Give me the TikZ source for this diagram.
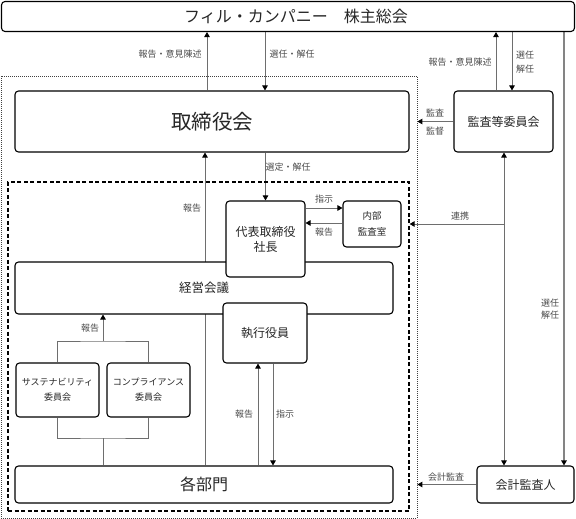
\documentclass[tikz,border=0pt]{standalone}
\usepackage{fontspec}
\setmainfont{Noto Sans CJK JP}
\usetikzlibrary{arrows.meta}
\pgfdeclarelayer{background}
\pgfsetlayers{background,main}
\definecolor{conncol}{HTML}{6E6E6E}
\definecolor{txtcol}{HTML}{262626}
\definecolor{lblcol}{HTML}{4A4A4A}
\newcommand{\fs}[2]{\fontsize{#1}{#2}\selectfont}
\begin{document}
\begin{tikzpicture}[x=1pt,y=-1pt,
  >={Triangle[length=5pt,width=5.5pt,color=black]},
  box/.style={draw=black,line width=1.1pt,rounded corners=3.5pt,fill=white,inner sep=0pt,text=txtcol,align=center},
  lbl/.style={text=lblcol,font=\fs{9}{13},inner sep=0pt,align=center},
  conn/.style={draw=conncol,line width=0.9pt},
  frame/.style={inner sep=0pt}]
\useasboundingbox (0,0) rectangle (576,519);

% frames
\node[frame,draw=black!75,line width=0.8pt,dash pattern=on 1pt off 1pt,minimum width=416pt,minimum height=442pt] (outer) at (209,297) {};
\node[frame,draw=black,line width=1.2pt,dash pattern=on 4pt off 2.5pt,minimum width=401pt,minimum height=329pt] (inner) at (208.5,346.5) {};

% boxes
\node[box,minimum width=573pt,minimum height=30pt,font=\fs{16}{18}] (top) at (288,16.5) {\hspace*{16pt}フィル・カンパニー　株主総会};
\node[box,minimum width=394pt,minimum height=61pt,font=\fs{20.5}{22}] (tori) at (212,121.5) {取締役会};
\node[box,minimum width=99pt,minimum height=61pt,font=\fs{12}{14}] (kansa) at (503.5,121.5) {監査等委員会};
\node[box,minimum width=378pt,minimum height=52pt,font=\fs{12.5}{14}] (keiei) at (204,288) {経営会議};
\node[box,minimum width=79pt,minimum height=76pt,font=\fs{12}{15}] (daihyo) at (265.5,239) {代表取締役\\社長};
\node[box,minimum width=58pt,minimum height=46pt,font=\fs{9.5}{16}] (naibu) at (372,224) {内部\\監査室};
\node[box,minimum width=84pt,minimum height=60pt,font=\fs{12}{14}] (shikko) at (265,333) {執行役員};
\node[box,minimum width=83pt,minimum height=54pt,font=\fs{9}{15}] (sus) at (57.5,390) {サステナビリティ\\委員会};
\node[box,minimum width=83pt,minimum height=54pt,font=\fs{9}{15}] (comp) at (148.5,390) {コンプライアンス\\委員会};
\node[box,minimum width=378pt,minimum height=37pt,font=\fs{16}{18}] (kakubu) at (204,484.5) {各部門};
\node[box,minimum width=97pt,minimum height=37pt,font=\fs{12}{14}] (kaikei) at (525.5,484.5) {会計監査人};

% guide coordinates
\coordinate (xA) at (207,0);
\coordinate (xB) at (265,0);
\coordinate (xH) at (205,0);
\coordinate (xR) at (258,0);
\coordinate (xI) at (273,0);
\coordinate (xU) at (496,0);
\coordinate (xD) at (512,0);
\coordinate (xC) at (504,0);
\coordinate (xE) at (564,0);
\coordinate (yS) at (0,208);
\coordinate (yK) at (0,223);
\coordinate (yL) at (0,224);
\coordinate (tT) at (103,341);
\coordinate (tB) at (103,438);

\begin{pgfonlayer}{background}
\draw[conn,->] (tori.north -| xA) -- (top.south -| xA);
\draw[conn,->] (top.south -| xB) -- (tori.north -| xB);
\draw[conn,->] (kansa.north -| xU) -- (top.south -| xU);
\draw[conn,->] (top.south -| xD) -- (kansa.north -| xD);
\draw[conn,->,line width=1.4pt,draw=conncol!85] (top.south -| xE) -- (kaikei.north -| xE);
\draw[conn,<->] (kansa.south -| xC) -- (kaikei.north -| xC);
\draw[conn,->] (kansa.west) -- (kansa.west -| outer.east);
\draw[conn,->] (xC |- yL) -- (inner.east |- yL);
\draw[conn,->] (kaikei.west) -- (kaikei.west -| outer.east);
\draw[conn,->] (tori.south -| daihyo.north) -- (daihyo.north);
\draw[conn,->] (kakubu.north -| xH) -- (tori.south -| xH);
\draw[conn,->] (daihyo.east |- yS) -- (naibu.west |- yS);
\draw[conn,->] (naibu.west |- yK) -- (daihyo.east |- yK);
\draw[conn] (sus.north) |- (tT) -| (comp.north);
\draw[conn,->] (tT) -- (keiei.south -| tT);
\draw[conn] (sus.south) |- (tB) -| (comp.south);
\draw[conn] (tB) -- (kakubu.north -| tB);
\draw[conn,->] (kakubu.north -| xR) -- (shikko.south -| xR);
\draw[conn,->] (shikko.south -| xI) -- (kakubu.north -| xI);
\end{pgfonlayer}

% labels
\node[lbl] (l1) at (170,54) {報告・意見陳述};
\node[lbl] (l2) at (292,54) {選任・解任};
\node[lbl] (l3) at (460,62) {報告・意見陳述};
\node[lbl,font=\fs{9}{14}] (l4) at (525,62) {選任\\解任};
\node[lbl,font=\fs{9}{18}] (l5) at (435,122) {監査\\監督};
\node[lbl] (l6) at (288,167) {選定・解任};
\node[lbl] (l7) at (192,208) {報告};
\node[lbl] (l8) at (324,199) {指示};
\node[lbl] (l9) at (324,232) {報告};
\node[lbl] (l10) at (460,216) {連携};
\node[lbl] (l11) at (90,328) {報告};
\node[lbl] (l12) at (244,414) {報告};
\node[lbl] (l13) at (285,414) {指示};
\node[lbl,font=\fs{9}{12.5}] (l14) at (550,309) {選任\\解任};
\node[lbl] (l15) at (446,477) {会計監査};
\end{tikzpicture}
\end{document}
